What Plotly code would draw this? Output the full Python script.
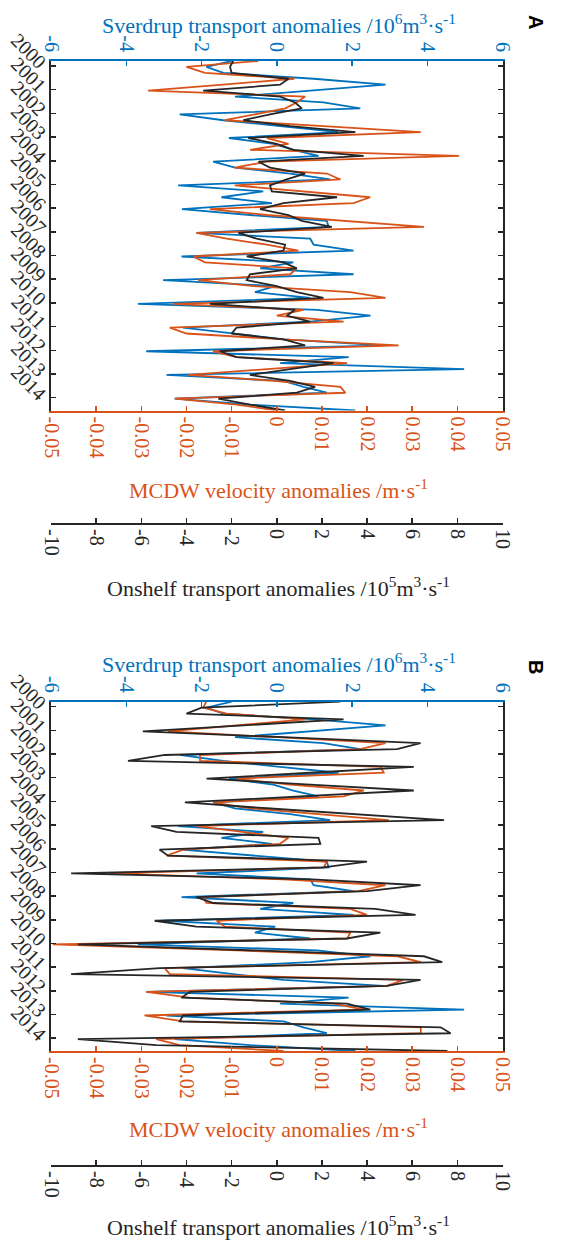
import plotly.graph_objects as go

# ---------------- data (quarterly anomalies) ----------------
time_years = [1999.79 + 0.25 * i for i in range(60)]
year_ticks = list(range(2000, 2015))
year_labels = [str(y) for y in year_ticks]

sverdrup = [-1.20, -1.87, -1.42, 0.98, 2.89, 0.89, -1.11, 1.24, 2.22, -2.58,
            -1.42, 0.09, 1.64, -1.27, -0.09, 0.44, 1.11, -1.69, -1.11, 0.36,
            1.42, -2.62, -0.36, -1.47, -0.13, -2.52, -0.71, 1.33, 1.38, -2.13,
            0.89, 0.98, 2.04, -2.53, 0.44, -0.44, 2.04, -3.02, -0.04, -0.58,
            0.89, -3.69, 1.07, 2.49, 0.89, -2.49, -1.16, 0.18, 2.84, -3.47,
            1.91, 0.09, 4.98, -2.93, 0.18, 0.71, 1.33, -2.71, -0.71, 2.09]

mcdw_a = [-0.0041, -0.0200, -0.0159, 0.0039, -0.0119, -0.0285, 0.0063, 0.0044, 0.0019, -0.0052,
          -0.0115, 0.0104, 0.0319, -0.0022, 0.0026, -0.0059, 0.0404, -0.0022, -0.0093, 0.0111,
          0.0141, -0.0093, 0.0059, 0.0207, 0.0170, -0.0148, -0.0022, 0.0148, 0.0326, -0.0178,
          -0.0111, -0.0022, 0.0048, -0.0185, -0.0159, 0.0044, 0.0030, -0.0174, -0.0052, 0.0163,
          0.0241, -0.0230, 0.0059, 0.0000, 0.0148, -0.0237, -0.0200, 0.0015, 0.0270, -0.0141,
          -0.0089, 0.0156, -0.0022, -0.0196, -0.0007, 0.0141, 0.0152, -0.0226, -0.0089, 0.0000]

onshelf_a = [-1.93, -2.07, -2.00, 0.52, 0.15, -3.26, 0.15, 0.81, 1.11, -0.30,
             -1.48, 0.59, 3.48, -1.26, 0.00, 0.74, 3.85, -0.81, -0.30, 1.26,
             0.44, -0.30, -0.22, 2.67, 0.30, -0.74, 0.52, 1.11, 2.44, -1.70,
             -0.89, 0.37, 0.30, -1.33, 0.30, 0.89, -1.19, -1.33, 0.00, 0.89,
             2.07, -2.96, 0.81, 0.44, 1.48, -1.78, -2.00, 0.30, 1.26, -2.52,
             -1.78, 2.52, 0.59, -1.19, 0.59, 1.70, 0.89, -2.59, -1.19, 0.37]

mcdw_b = [-0.0156, -0.0163, -0.0111, 0.0063, -0.0089, -0.0241, 0.0000, 0.0241, 0.0185, -0.0170,
          -0.0170, 0.0230, 0.0237, -0.0089, 0.0030, 0.0193, 0.0148, -0.0141, -0.0059, 0.0104,
          0.0248, -0.0178, -0.0074, 0.0026, 0.0007, -0.0207, -0.0244, 0.0111, 0.0104, -0.0370,
          0.0015, 0.0241, 0.0181, -0.0163, -0.0156, 0.0163, 0.0200, -0.0133, -0.0115, 0.0163,
          0.0156, -0.0496, -0.0089, 0.0267, 0.0319, -0.0248, -0.0237, 0.0281, 0.0244, -0.0289,
          -0.0193, 0.0126, 0.0193, -0.0293, -0.0207, 0.0319, 0.0319, -0.0267, -0.0215, 0.0015]

onshelf_b = [2.81, -3.33, -4.00, 2.96, -1.48, -5.93, 0.30, 6.37, 5.33, -4.96,
             -6.59, 6.07, 1.48, -3.11, 1.48, 6.07, 1.04, -4.07, -0.44, 3.26,
             7.41, -5.56, -4.44, 1.85, 1.93, -5.19, -4.81, 4.00, 2.07, -9.11,
             1.56, 6.37, 4.00, -3.56, -2.81, 4.37, 6.15, -5.41, -3.56, 4.59,
             3.11, -8.81, -1.19, 6.52, 7.33, -5.19, -9.11, 6.37, 4.89, -3.85,
             -4.22, 3.11, 4.15, -4.15, -4.30, 7.26, 7.70, -8.81, -5.33, 7.56]

sv_ticks = [-6, -4, -2, 0, 2, 4, 6]
sv_labels = ["-6", "-4", "-2", "0", "2", "4", "6"]
mc_ticks = [-0.05, -0.04, -0.03, -0.02, -0.01, 0, 0.01, 0.02, 0.03, 0.04, 0.05]
mc_labels = ["-0.05", "-0.04", "-0.03", "-0.02", "-0.01", "0", "0.01", "0.02", "0.03", "0.04", "0.05"]
on_ticks = [-10, -8, -6, -4, -2, 0, 2, 4, 6, 8, 10]
on_labels = ["-10", "-8", "-6", "-4", "-2", "0", "2", "4", "6", "8", "10"]

# ---------------- style ----------------
BLUE = "#0072BD"
ORANGE = "#D95319"
BLACK = "#262626"
SERIF = "Liberation Serif"
W, H = 581, 1240
XDOM = [51 / W, 502.5 / W]
A_DOM = [1 - 410.5 / H, 1 - 61 / H]
B_DOM = [1 - 1051 / H, 1 - 701.7 / H]
A_ON_POS = 1 - 524 / H
B_ON_POS = 1 - 1166 / H
TICKFONT = 20
TITLEFONT = 22
LW = 1.8

fig = go.Figure()

def add_panel(mc, on, xs, xm, xo, ya):
    fig.add_trace(go.Scatter(x=sverdrup, y=time_years, mode="lines", xaxis=xs, yaxis=ya,
                             line=dict(color=BLUE, width=LW), showlegend=False))
    fig.add_trace(go.Scatter(x=mc, y=time_years, mode="lines", xaxis=xm, yaxis=ya,
                             line=dict(color=ORANGE, width=LW), showlegend=False))
    fig.add_trace(go.Scatter(x=on, y=time_years, mode="lines", xaxis=xo, yaxis=ya,
                             line=dict(color=BLACK, width=LW), showlegend=False))

add_panel(mcdw_a, onshelf_a, "x", "x2", "x3", "y")
add_panel(mcdw_b, onshelf_b, "x4", "x5", "x6", "y2")

def common(color):
    return dict(ticks="inside", ticklen=5, tickwidth=1.5, tickcolor=color,
                showline=True, linecolor=color, linewidth=2, showgrid=False,
                zeroline=False, automargin=False,
                tickfont=dict(family=SERIF, size=TICKFONT, color=color))

def sv_axis(anchor):
    return dict(domain=XDOM, anchor=anchor, side="top", range=[-6, 6],
                tickvals=sv_ticks, ticktext=sv_labels, tickangle=90, **common(BLUE))

def mc_axis(anchor, over):
    return dict(domain=XDOM, anchor=anchor, overlaying=over, side="bottom", range=[-0.05, 0.05],
                tickvals=mc_ticks, ticktext=mc_labels, tickangle=90, **common(ORANGE))

def on_axis(pos, over):
    return dict(domain=XDOM, anchor="free", position=pos, overlaying=over, side="bottom",
                range=[-10, 10], tickvals=on_ticks, ticktext=on_labels, tickangle=90,
                **common(BLACK))

def y_axis(dom, anchor):
    return dict(domain=dom, anchor=anchor, range=[2014.54, 1999.79],
                tickvals=year_ticks, ticktext=year_labels, tickangle=45,
                mirror="ticks", **common(BLACK))

fig.update_layout(
    template="none",
    width=W, height=H, autosize=False,
    margin=dict(l=0, r=0, t=0, b=0, pad=0),
    paper_bgcolor="white", plot_bgcolor="white",
    font=dict(family=SERIF, size=TICKFONT, color=BLACK),
    xaxis=sv_axis("y"), xaxis2=mc_axis("y", "x"), xaxis3=on_axis(A_ON_POS, "x"),
    xaxis4=sv_axis("y2"), xaxis5=mc_axis("y2", "x4"), xaxis6=on_axis(B_ON_POS, "x4"),
    yaxis=y_axis(A_DOM, "x"), yaxis2=y_axis(B_DOM, "x4"),
)

def label(text, xpx, ypx, color, size=TITLEFONT, family=SERIF, angle=0):
    fig.add_annotation(text=text, x=xpx / W, y=1 - ypx / H, xref="paper", yref="paper",
                       showarrow=False, xanchor="center", yanchor="middle", textangle=angle,
                       font=dict(family=family, size=size, color=color))

sv_title = "Sverdrup transport anomalies /10<sup>6</sup>m<sup>3</sup>·s<sup>-1</sup>"
mc_title = "MCDW velocity anomalies /m·s<sup>-1</sup>"
on_title = "Onshelf transport anomalies /10<sup>5</sup>m<sup>3</sup>·s<sup>-1</sup>"

for off in (0, 639):
    label(sv_title, 279, 24 + off, BLUE)
    label(mc_title, 278, 489 + off, ORANGE)
    label(on_title, 278, 587 + off, BLACK)

label("<b>A</b>", 536, 22, "black", size=20, family="Liberation Sans", angle=90)
label("<b>B</b>", 536, 667, "black", size=20, family="Liberation Sans", angle=90)

fig.write_html(
    "out.html",
    config={"displayModeBar": False, "staticPlot": True},
    post_script="document.body.style.margin='0';document.body.style.overflow='hidden';",
)
